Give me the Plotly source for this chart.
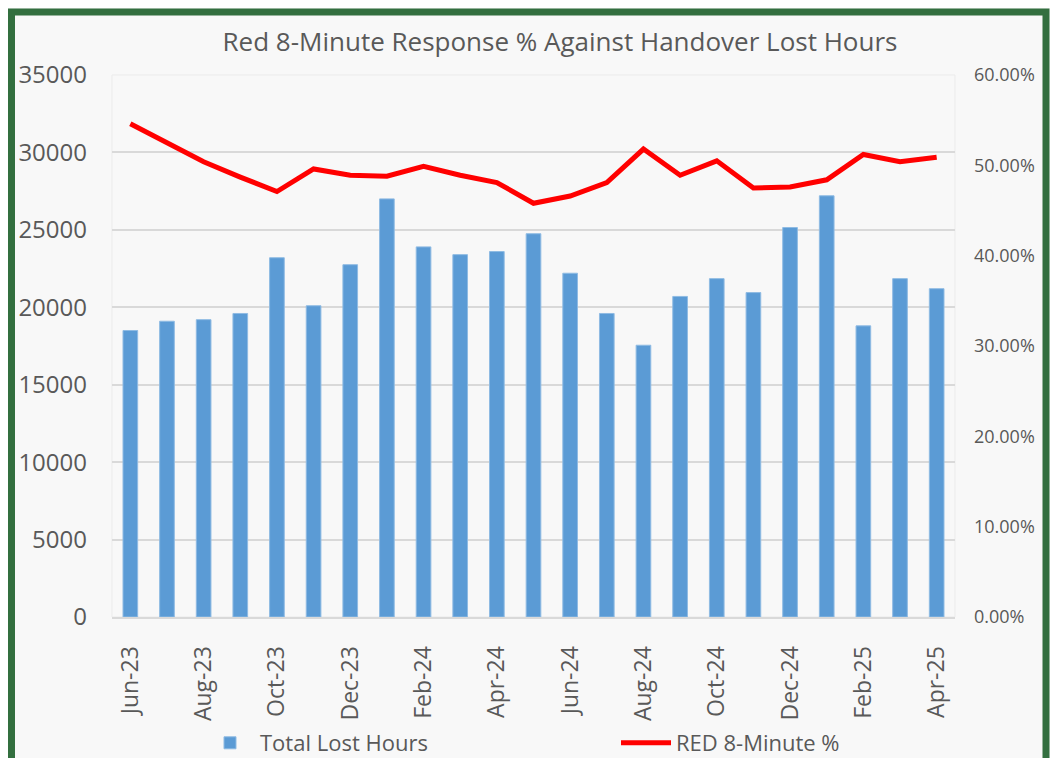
import plotly.graph_objects as go

# ---------------------------------------------------------------------------
# Data
# ---------------------------------------------------------------------------

MONTHS = [
    "Jun-23", "Jul-23", "Aug-23", "Sep-23", "Oct-23", "Nov-23", "Dec-23",
    "Jan-24", "Feb-24", "Mar-24", "Apr-24", "May-24", "Jun-24", "Jul-24",
    "Aug-24", "Sep-24", "Oct-24", "Nov-24", "Dec-24", "Jan-25", "Feb-25",
    "Mar-25", "Apr-25",
]

LOST_HOURS = [
    18500, 19100, 19200, 19600, 23200, 20100, 22750,
    27000, 23900, 23400, 23600, 24750, 22200, 19600,
    17550, 20700, 21850, 20950, 25150, 27200, 18800,
    21850, 21200,
]

RED_8MIN_PCT = [
    0.546, 0.525, 0.504, 0.487, 0.471, 0.496, 0.489,
    0.488, 0.499, 0.489, 0.481, 0.458, 0.466, 0.481,
    0.518, 0.489, 0.505, 0.475, 0.476, 0.484, 0.512,
    0.504, 0.509,
]

TICK_LABELS = MONTHS[::2]

# ---------------------------------------------------------------------------
# Style
# ---------------------------------------------------------------------------

FONT = "Open Sans, Noto Sans, sans-serif"
TEXT = "#595959"
GRID = "#d9d9d9"
BG = "#f8f8f8"
BAR = "#5b9bd5"
LINE = "#ff0000"
FRAME = "#336f3f"

# the page body adds an 8px offset, so figure pixels = screen pixels - 8
OFF = 8
W, H = 1058, 758
L, T = 112 - OFF, 75 - OFF
R, B = W - (955 - OFF), H - (617 - OFF)
PW, PH = W - L - R, H - T - B


def px_x(x):
    """Screen pixel x -> paper fraction."""
    return (x - OFF - L) / PW


def px_y(y):
    """Screen pixel y (from top) -> paper fraction."""
    return (H - B - (y - OFF)) / PH


fig = go.Figure()
fig.add_trace(go.Bar(
    x=MONTHS,
    y=LOST_HOURS,
    name="Total Lost Hours",
    marker=dict(color=BAR, line=dict(color="#8fbbe3", width=1)),
    width=0.4,
    legend="legend",
))
fig.add_trace(go.Scatter(
    x=MONTHS,
    y=RED_8MIN_PCT,
    name="RED 8-Minute %",
    mode="lines",
    line=dict(color=LINE, width=5),
    yaxis="y2",
    legend="legend2",
))

legend_common = dict(
    orientation="h",
    yanchor="middle",
    y=px_y(743),
    font=dict(size=22, color=TEXT),
    bgcolor="rgba(0,0,0,0)",
    itemwidth=50,
)

fig.update_layout(
    width=W, height=H,
    margin=dict(l=L, r=R, t=T, b=B, autoexpand=False),
    paper_bgcolor=BG,
    plot_bgcolor=BG,
    font=dict(family=FONT, color=TEXT),
    title=dict(
        text="Red 8-Minute Response % Against Handover Lost Hours",
        font=dict(size=26, color=TEXT),
        x=(560 - OFF) / W, xanchor="center",
        y=1 - (42 - OFF) / H, yanchor="middle",
    ),
    xaxis=dict(
        type="category",
        tickmode="array",
        tickvals=TICK_LABELS,
        ticktext=TICK_LABELS,
        tickangle=-90,
        tickfont=dict(size=23, color=TEXT),
        ticklabelstandoff=18,
        showline=True,
        linecolor=GRID,
        linewidth=2,
        showgrid=False,
        ticks="",
        automargin=False,
    ),
    yaxis=dict(
        range=[0, 35000],
        dtick=5000,
        tickformat="d",
        tickfont=dict(size=24, color=TEXT),
        ticklabelstandoff=24,
        gridcolor=GRID,
        gridwidth=2,
        zeroline=False,
        ticks="",
        automargin=False,
    ),
    yaxis2=dict(
        overlaying="y",
        side="right",
        range=[0, 0.6],
        dtick=0.1,
        tickformat=".2%",
        tickfont=dict(size=18, color=TEXT),
        ticklabelstandoff=18,
        showgrid=False,
        zeroline=False,
        ticks="",
        automargin=False,
    ),
    legend=dict(legend_common, x=px_x(200), xanchor="left"),
    legend2=dict(legend_common, x=px_x(616), xanchor="left"),
    bargap=0.6,
    showlegend=True,
)

# faint plot-area outline
fig.add_shape(
    type="rect", xref="paper", yref="paper",
    x0=0, x1=1, y0=0, y1=1,
    line=dict(color="#ebebeb", width=1),
    layer="below",
)

# green frame around the whole chart (bottom edge falls outside the picture)
fig.add_shape(
    type="rect", xref="paper", yref="paper",
    x0=px_x(11.5), x1=px_x(1046),
    y0=px_y(900), y1=px_y(12),
    line=dict(color=FRAME, width=7),
)

fig.write_html("out.html")
